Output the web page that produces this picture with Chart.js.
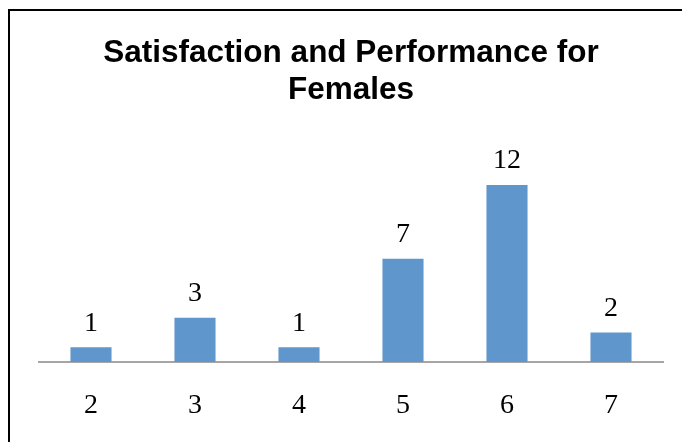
<!DOCTYPE html>
<html>
<head>
<meta charset="utf-8">
<script src="https://cdn.jsdelivr.net/npm/chart.js@4"></script>
<style>
html,body{margin:0;padding:0;background:#fff;}
#wrap{width:682px;height:442px;position:relative;}
</style>
</head>
<body>
<div id="wrap"><canvas id="c" width="682" height="442"></canvas></div>
<script>
const categories = ['2', '3', '4', '5', '6', '7'];
const values = [1, 3, 1, 7, 12, 2];
const titleLines = ['Satisfaction and Performance for', 'Females'];

const frame = {
  id: 'frame',
  beforeDraw(chart) {
    const ctx = chart.ctx;
    ctx.save();
    ctx.fillStyle = '#fff';
    ctx.fillRect(0, 0, chart.width, chart.height);
    ctx.strokeStyle = '#000';
    ctx.lineWidth = 2;
    ctx.beginPath();
    ctx.moveTo(9, chart.height);
    ctx.lineTo(9, 10);
    ctx.lineTo(chart.width, 10);
    ctx.stroke();
    ctx.restore();
  }
};

const valueLabels = {
  id: 'valueLabels',
  afterDatasetsDraw(chart) {
    const ctx = chart.ctx;
    const meta = chart.getDatasetMeta(0);
    ctx.save();
    ctx.fillStyle = '#000';
    ctx.font = '28px "Liberation Serif", "DejaVu Serif", serif';
    ctx.textAlign = 'center';
    ctx.textBaseline = 'middle';
    meta.data.forEach((bar, i) => {
      ctx.fillText(String(chart.data.datasets[0].data[i]), bar.x, bar.y - 24);
    });
    ctx.restore();
  }
};

new Chart(document.getElementById('c'), {
  type: 'bar',
  data: {
    labels: categories,
    datasets: [{
      data: values,
      backgroundColor: '#5f96cb',
      borderWidth: 0,
      categoryPercentage: 1,
      barPercentage: 0.395
    }]
  },
  options: {
    responsive: false,
    animation: false,
    layout: { padding: { left: 39, right: 19, top: 0, bottom: 0 } },
    plugins: {
      legend: { display: false },
      tooltip: { enabled: false },
      title: {
        display: true,
        text: titleLines,
        color: '#000',
        font: { family: '"Liberation Sans", Arial, sans-serif', size: 31.5, weight: 'bold', lineHeight: 1.175 },
        padding: { top: 35, bottom: 76 }
      }
    },
    scales: {
      x: {
        grid: { display: false, drawTicks: false },
        border: { display: true, color: '#a6a6a6', width: 2 },
        ticks: {
          color: '#000',
          padding: 27,
          font: { family: '"Liberation Serif", "DejaVu Serif", serif', size: 28, lineHeight: 1.2 }
        },
        afterFit(scale) { scale.height = 80; }
      },
      y: {
        display: false,
        min: 0,
        max: 12
      }
    }
  },
  plugins: [frame, valueLabels]
});
</script>
</body>
</html>
